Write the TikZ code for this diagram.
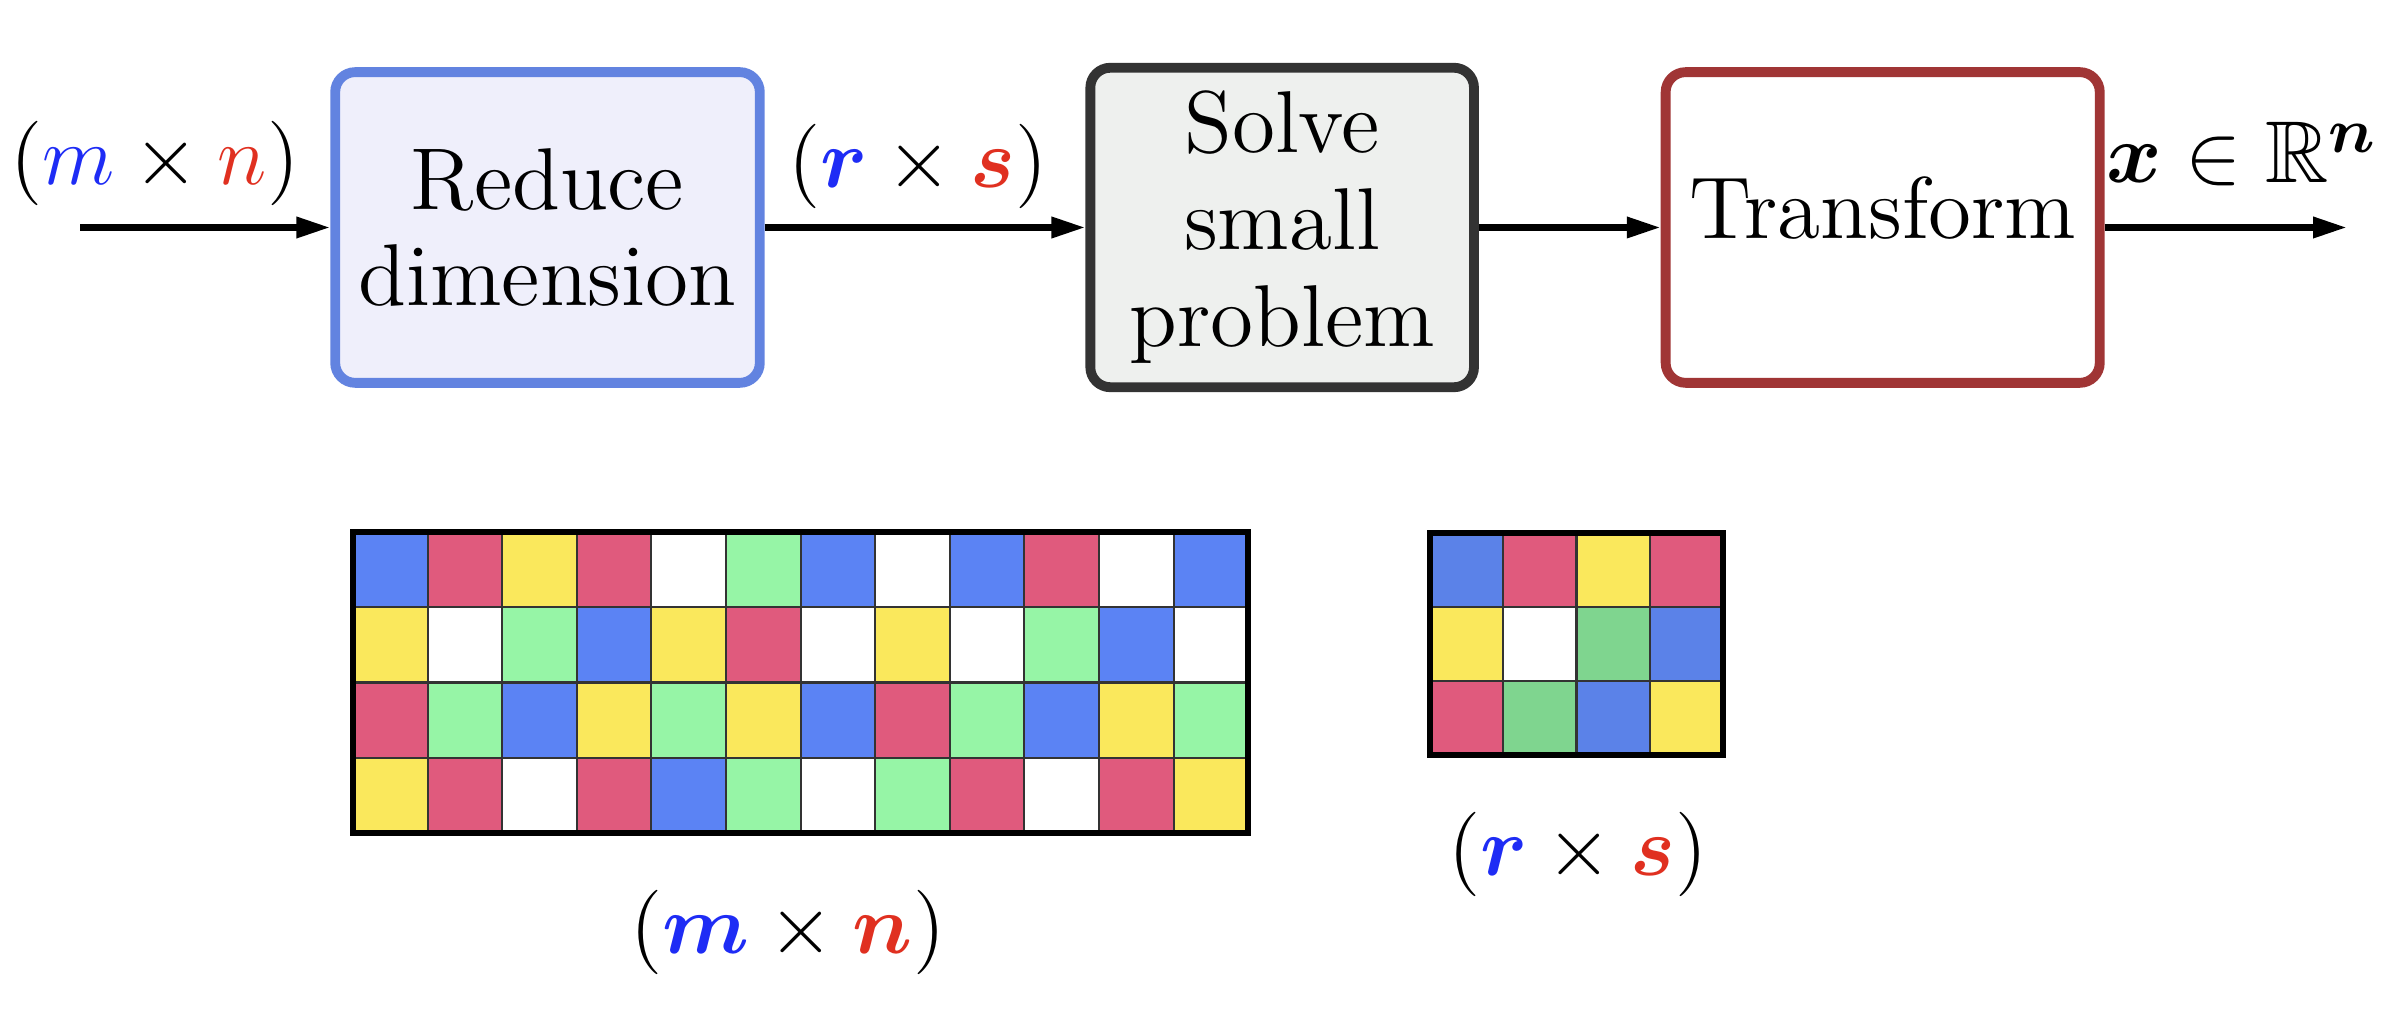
\documentclass[tikz,border=0pt]{standalone}
\usepackage{amsmath}
\usepackage{amssymb}
\usetikzlibrary{positioning,arrows.meta}

\definecolor{reduceborder}{HTML}{6283E0}
\definecolor{reducefill}{HTML}{EFEFFB}
\definecolor{solveborder}{HTML}{333333}
\definecolor{solvefill}{HTML}{EEF0EE}
\definecolor{transformborder}{HTML}{A03535}
\definecolor{mblue}{HTML}{1E2CF5}
\definecolor{mred}{HTML}{E03020}
% cell colours of the two matrices
\definecolor{bigB}{HTML}{5B83F4}
\definecolor{bigR}{HTML}{E05A7D}
\definecolor{bigY}{HTML}{FAE85C}
\definecolor{bigG}{HTML}{96F5A6}
\definecolor{bigW}{HTML}{FFFFFF}
\definecolor{smallB}{HTML}{5B82E8}
\definecolor{smallR}{HTML}{E05A7D}
\definecolor{smallY}{HTML}{FAE85C}
\definecolor{smallG}{HTML}{7FD58F}
\definecolor{smallW}{HTML}{FFFFFF}

\begin{document}
\begin{tikzpicture}[
    x=0.005cm, y=-0.005cm,
    block/.style={rectangle, rounded corners=0.1cm, line width=1.4pt, minimum height=1.555cm, align=center, font=\fontsize{12.5}{13.8}\selectfont},
    reduceblock/.style={block, draw=reduceborder, fill=reducefill, minimum width=2.125cm},
    solveblock/.style={block, draw=solveborder, fill=solvefill, minimum width=1.92cm},
    transformblock/.style={block, draw=transformborder, fill=white, minimum width=2.09cm, text depth=0.2cm},
    arrow/.style={-{Triangle[length=0.17cm,width=0.1cm]}, line width=0.95pt},
    dimlabel/.style={anchor=base, inner sep=0pt, font=\fontsize{12.5}{13.8}\selectfont},
    cellline/.style={draw=black!80, line width=0.3pt},
    gridframe/.style={draw=black, line width=0.85pt}
]
    \useasboundingbox (0,0) rectangle (2398,1010);

    % pipeline
    \node[reduceblock] (reduce) at (547.5,227.5) {Reduce\\dimension};
    \node[solveblock, right=1.605cm of reduce] (solve) {Solve\\small\\problem};
    \node[transformblock, right=0.91cm of solve] (transform) {Transform};

    \coordinate (in) at (80,227.5);
    \coordinate (out) at (2347,227.5);

    \draw[arrow] (in) -- (reduce);
    \draw[arrow] (reduce) -- (solve);
    \draw[arrow] (solve) -- (transform);
    \draw[arrow] (transform) -- (out);

    \node[dimlabel] (inlabel) at (155,185) {$(\textcolor{mblue}{m} \times \textcolor{mred}{n})$};
    \node[dimlabel] (midlabel) at (918,188) {$(\textcolor{mblue}{\boldsymbol{r}} \times \textcolor{mred}{\boldsymbol{s}})$};
    \node[dimlabel] (outlabel) at (2243,183) {$\boldsymbol{x} \in \mathbb{R}^{\boldsymbol{n}}$};

    % large matrix
    \foreach \cells [count=\j from 0] in {{B,R,Y,R,W,G,B,W,B,R,W,B},{Y,W,G,B,Y,R,W,Y,W,G,B,W},{R,G,B,Y,G,Y,B,R,G,B,Y,G},{Y,R,W,R,B,G,W,G,R,W,R,Y}}
        \foreach \c [count=\i from 0] in \cells
            \filldraw[cellline, fill=big\c] (353+74.6*\i,532+75.25*\j) rectangle ++(74.6,75.25);
    \draw[gridframe] (353,532) rectangle (1248,833);
    \node[dimlabel] (biglabel) at (788,954) {$(\textcolor{mblue}{\boldsymbol{m}} \times \textcolor{mred}{\boldsymbol{n}})$};

    % small matrix
    \foreach \cells [count=\j from 0] in {{B,R,Y,R},{Y,W,G,B},{R,G,B,Y}}
        \foreach \c [count=\i from 0] in \cells
            \filldraw[cellline, fill=small\c] (1430+73.25*\i,533+74*\j) rectangle ++(73.25,74);
    \draw[gridframe] (1430,533) rectangle (1723,755);
    \node[dimlabel] (smalllabel) at (1578,876) {$(\textcolor{mblue}{\boldsymbol{r}} \times \textcolor{mred}{\boldsymbol{s}})$};
\end{tikzpicture}
\end{document}
